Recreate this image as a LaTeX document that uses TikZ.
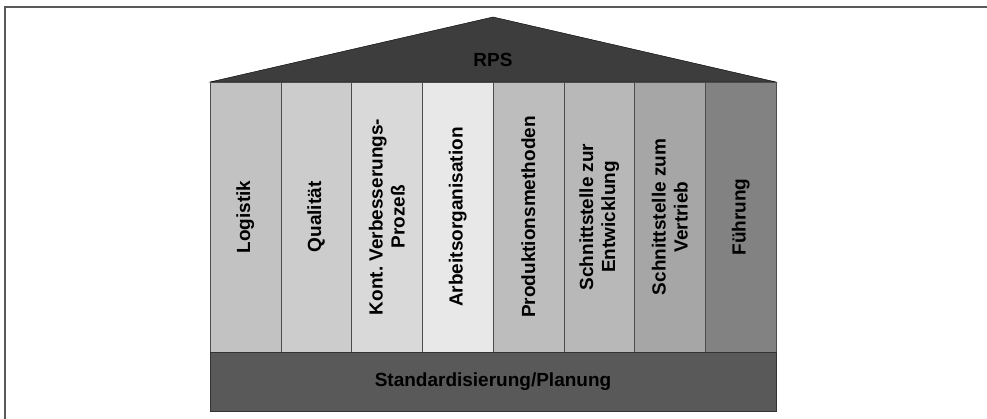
\documentclass[tikz,border=0pt]{standalone}
\usepackage{fontspec}
\setmainfont{Liberation Sans}
\frenchspacing
\tikzset{
pillar/.style={draw=black!70, rotate=90, minimum width=270pt, minimum height=70.75pt, inner sep=0pt, align=center, font=\bfseries\fontsize{19}{22}\selectfont},
label/.style={font=\bfseries\fontsize{19}{22}\selectfont}
}
\begin{document}
\begin{tikzpicture}[x=1pt,y=1pt]
\useasboundingbox (0,0) rectangle (987,419);
\draw[black!65, line width=2pt] (5,0) -- (5,411.5) -- (987,411.5); % frame
% roof
\coordinate (roofL) at (210,337);
\coordinate (roofR) at (776,337);
\coordinate (roofT) at (493,402);
\draw[black, fill=black!76] (roofL) -- (roofT) -- (roofR) -- cycle;
\node[label] (rps) at (493,359) {RPS};
\foreach \i/\name/\gr/\txt in {1/log/24/Logistik, 2/qual/20/Qualität,
  3/kvp/15/{Kont. Verbesserungs-\\Prozeß}, 4/arb/9/Arbeitsorganisation,
  5/prod/26/Produktionsmethoden, 6/entw/28/{Schnittstelle zur\\Entwicklung},
  7/vert/35/{Schnittstelle zum\\Vertrieb}, 8/fuehr/49/Führung} % edit here for the pillars
\node[pillar, fill=black!\gr] (\name) at ({210+70.75*(\i-0.5)},202) {\txt};
% base
\node[label, draw=black!80, fill=black!65, minimum width=566pt, minimum height=59pt, anchor=north] (base) at (493,67) {Standardisierung/Planung};
\end{tikzpicture}
\end{document}
